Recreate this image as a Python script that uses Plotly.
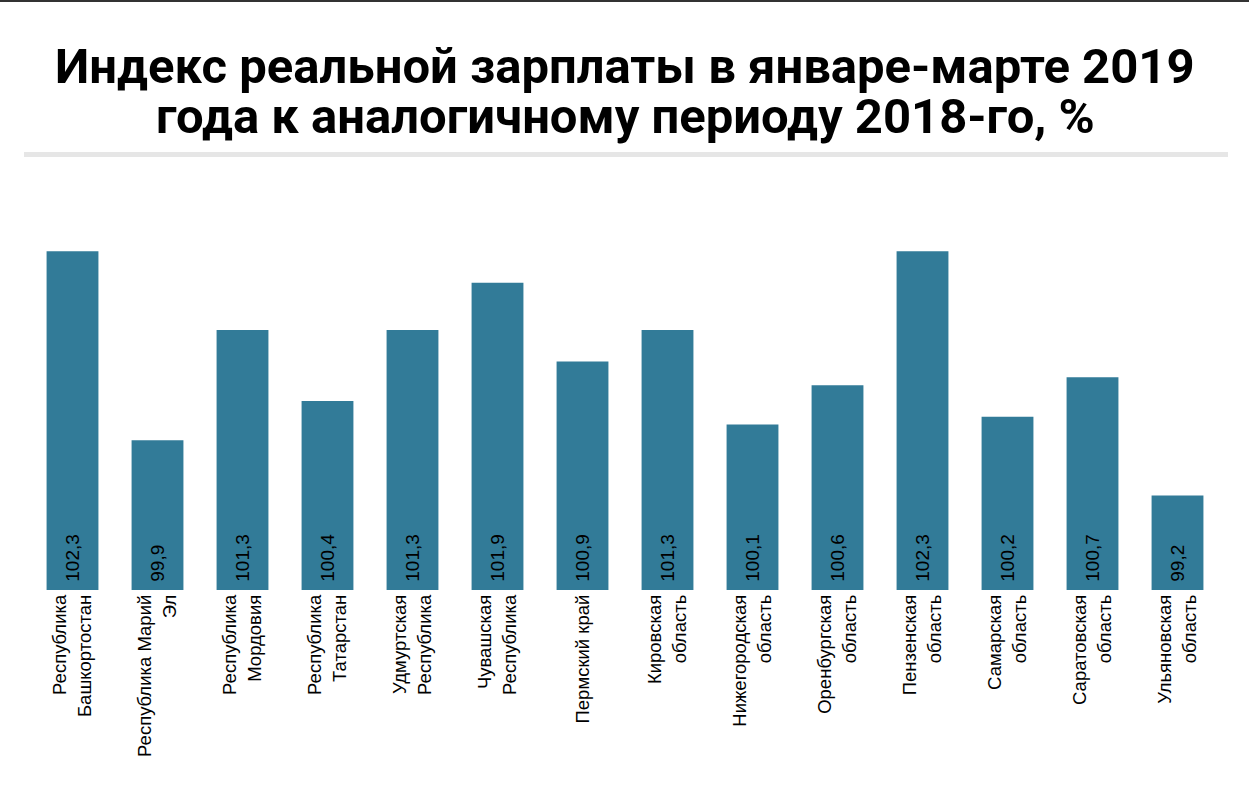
import plotly.graph_objects as go

# Данные
regiones = ["Республика<br>Башкортостан", "Республика Марий<br>Эл", "Республика<br>Мордовия",
            "Республика<br>Татарстан", "Удмуртская<br>Республика", "Чувашская<br>Республика",
            "Пермский край", "Кировская<br>область", "Нижегородская<br>область",
            "Оренбургская<br>область", "Пензенская<br>область", "Самарская<br>область",
            "Саратовская<br>область", "Ульяновская<br>область"]
valores = [102.3, 99.9, 101.3, 100.4, 101.3, 101.9, 100.9, 101.3, 100.1, 100.6, 102.3, 100.2, 100.7, 99.2]
base = 98
etiquetas = ["\u00a0" + f"{v:.1f}".replace(".", ",") for v in valores]

titulo1 = "Индекс реальной зарплаты в январе-марте 2019"
titulo2 = "года к аналогичному периоду 2018-го, %"

W, H = 1249, 800
ML, MR, MT, MB = 30, 29, 200, 210
PW, PH = W - ML - MR, H - MT - MB

def px_x(p):
    return (p - ML) / PW

def px_y(p):
    return (H - MB - p) / PH

fig = go.Figure(go.Bar(
    x=regiones, y=[v - base for v in valores], base=base,
    text=etiquetas, textposition="inside", insidetextanchor="start",
    textangle=-90, textfont=dict(color="black", size=19, family="Liberation Sans, Arial"),
    marker=dict(color="#327b98", line=dict(width=0)),
    customdata=valores, hovertemplate="%{x}: %{customdata}<extra></extra>",
))

fig.update_layout(
    width=W, height=H,
    margin=dict(l=ML, r=MR, t=MT, b=MB),
    plot_bgcolor="white", paper_bgcolor="white",
    showlegend=False, bargap=0.39,
    xaxis=dict(showgrid=False, showline=False, ticks="", tickangle=-90,
               tickfont=dict(size=18.5, color="black", family="Liberation Sans, Arial")),
    yaxis=dict(range=[98, 102.95], visible=False, showgrid=False, zeroline=False),
    annotations=[
        dict(text="<b>" + titulo1 + "</b>", xref="paper", yref="paper", x=px_x(625), y=px_y(66),
             xanchor="center", yanchor="middle", showarrow=False,
             font=dict(size=49, color="black", family="Roboto")),
        dict(text="<b>" + titulo2 + "</b>", xref="paper", yref="paper", x=px_x(625), y=px_y(116),
             xanchor="center", yanchor="middle", showarrow=False,
             font=dict(size=49, color="black", family="Roboto")),
    ],
    shapes=[
        dict(type="rect", xref="paper", yref="paper", x0=px_x(-2), x1=px_x(W + 2),
             y0=px_y(2), y1=px_y(-2), fillcolor="#333333", line=dict(width=0)),
        dict(type="rect", xref="paper", yref="paper", x0=px_x(24), x1=px_x(1228),
             y0=px_y(157), y1=px_y(152), fillcolor="#e6e6e6", line=dict(width=0)),
    ],
)

fig.write_html("out.html", config={"displayModeBar": False},
               post_script="document.body.style.margin='0';")
